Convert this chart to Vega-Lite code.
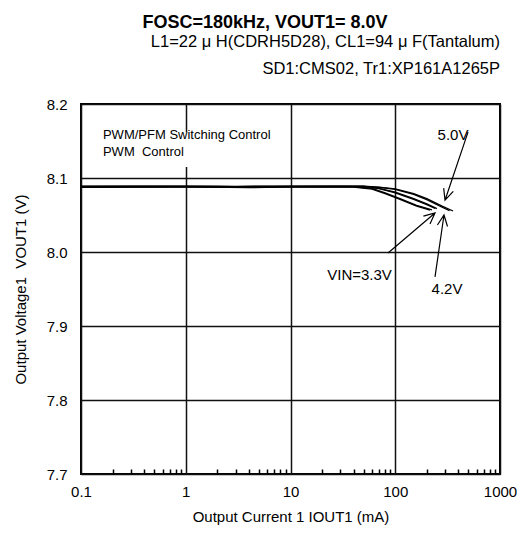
{
  "$schema": "https://vega.github.io/schema/vega-lite/v6.json",
  "width": 419,
  "height": 370,
  "autosize": {"type": "none"},
  "padding": {"left": 81, "top": 104, "right": 22, "bottom": 70},
  "background": "white",
  "config": {
    "font": "Liberation Sans",
    "view": {"stroke": "#000", "strokeWidth": 2},
    "axis": {"labelFont": "Liberation Sans", "titleFont": "Liberation Sans", "labelColor": "#000", "titleColor": "#000", "titleFontWeight": "normal"}
  },
  "resolve": {"axis": {"x": "independent", "y": "independent"}},
  "layer": [
    {
      "data": {"values": [
        {"x": 0.15, "x2": 7.9, "y": 8.162, "y2": 8.115}
      ]},
      "mark": {"type": "rect", "fill": "white", "stroke": null},
      "encoding": {
        "x": {"field": "x", "type": "quantitative", "scale": {"type": "log", "domain": [0.1, 1000], "nice": false},
          "axis": {"orient": "bottom", "values": [0.2,0.3,0.4,0.5,0.6,0.7,0.8,0.9,2,3,4,5,6,7,8,9,20,30,40,50,60,70,80,90,200,300,400,500,600,700,800,900], "labels": false, "grid": false, "domain": false, "ticks": true, "tickSize": -5, "tickColor": "#000", "tickWidth": 1.5, "title": null, "zindex": 1}},
        "x2": {"field": "x2"},
        "y": {"field": "y", "type": "quantitative", "scale": {"domain": [7.7, 8.2], "nice": false, "zero": false}, "axis": null},
        "y2": {"field": "y2"}
      }
    },
    {
      "data": {"values": [
        {"s": "5.0a", "x": 0.1, "y": 8.0890}, {"s": "5.0a", "x": 0.15, "y": 8.0889}, {"s": "5.0a", "x": 0.3, "y": 8.0891}, {"s": "5.0a", "x": 0.5, "y": 8.0889}, {"s": "5.0a", "x": 1, "y": 8.0890}, {"s": "5.0a", "x": 2, "y": 8.0889}, {"s": "5.0a", "x": 3, "y": 8.0888}, {"s": "5.0a", "x": 5, "y": 8.0891}, {"s": "5.0a", "x": 10, "y": 8.0891}, {"s": "5.0a", "x": 20, "y": 8.0891}, {"s": "5.0a", "x": 30, "y": 8.0890}, {"s": "5.0a", "x": 50, "y": 8.0889}, {"s": "5.0a", "x": 70, "y": 8.0878}, {"s": "5.0a", "x": 100, "y": 8.0852}, {"s": "5.0a", "x": 150, "y": 8.0790}, {"s": "5.0a", "x": 200, "y": 8.0720}, {"s": "5.0a", "x": 280, "y": 8.0620}, {"s": "5.0a", "x": 356, "y": 8.0554},
        {"s": "5.0b", "x": 0.1, "y": 8.0884}, {"s": "5.0b", "x": 0.3, "y": 8.0885}, {"s": "5.0b", "x": 1, "y": 8.0886}, {"s": "5.0b", "x": 3, "y": 8.0884}, {"s": "5.0b", "x": 10, "y": 8.0887}, {"s": "5.0b", "x": 30, "y": 8.0887}, {"s": "5.0b", "x": 50, "y": 8.0886}, {"s": "5.0b", "x": 70, "y": 8.0872}, {"s": "5.0b", "x": 100, "y": 8.0845}, {"s": "5.0b", "x": 150, "y": 8.0780}, {"s": "5.0b", "x": 200, "y": 8.0708}, {"s": "5.0b", "x": 280, "y": 8.0605}, {"s": "5.0b", "x": 330, "y": 8.0560},
        {"s": "4.2a", "x": 0.1, "y": 8.0886}, {"s": "4.2a", "x": 0.3, "y": 8.0887}, {"s": "4.2a", "x": 1, "y": 8.0887}, {"s": "4.2a", "x": 4, "y": 8.0880}, {"s": "4.2a", "x": 10, "y": 8.0887}, {"s": "4.2a", "x": 30, "y": 8.0888}, {"s": "4.2a", "x": 50, "y": 8.0887}, {"s": "4.2a", "x": 70, "y": 8.0860}, {"s": "4.2a", "x": 100, "y": 8.0810}, {"s": "4.2a", "x": 150, "y": 8.0720}, {"s": "4.2a", "x": 200, "y": 8.0650}, {"s": "4.2a", "x": 250, "y": 8.0585},
        {"s": "4.2b", "x": 0.1, "y": 8.0880}, {"s": "4.2b", "x": 0.3, "y": 8.0882}, {"s": "4.2b", "x": 1, "y": 8.0883}, {"s": "4.2b", "x": 10, "y": 8.0884}, {"s": "4.2b", "x": 30, "y": 8.0885}, {"s": "4.2b", "x": 50, "y": 8.0884}, {"s": "4.2b", "x": 70, "y": 8.0855}, {"s": "4.2b", "x": 100, "y": 8.0800}, {"s": "4.2b", "x": 150, "y": 8.0712}, {"s": "4.2b", "x": 200, "y": 8.0640}, {"s": "4.2b", "x": 240, "y": 8.0590},
        {"s": "3.3a", "x": 0.1, "y": 8.0878}, {"s": "3.3a", "x": 0.3, "y": 8.0879}, {"s": "3.3a", "x": 1, "y": 8.0880}, {"s": "3.3a", "x": 4, "y": 8.0870}, {"s": "3.3a", "x": 10, "y": 8.0879}, {"s": "3.3a", "x": 40, "y": 8.0882}, {"s": "3.3a", "x": 60, "y": 8.0860}, {"s": "3.3a", "x": 80, "y": 8.0800}, {"s": "3.3a", "x": 111, "y": 8.0720}, {"s": "3.3a", "x": 160, "y": 8.0630}, {"s": "3.3a", "x": 224, "y": 8.0568},
        {"s": "3.3b", "x": 0.1, "y": 8.0875}, {"s": "3.3b", "x": 0.3, "y": 8.0876}, {"s": "3.3b", "x": 1, "y": 8.0877}, {"s": "3.3b", "x": 10, "y": 8.0877}, {"s": "3.3b", "x": 40, "y": 8.0878}, {"s": "3.3b", "x": 60, "y": 8.0850}, {"s": "3.3b", "x": 80, "y": 8.0790}, {"s": "3.3b", "x": 111, "y": 8.0710}, {"s": "3.3b", "x": 160, "y": 8.0620}, {"s": "3.3b", "x": 215, "y": 8.0565}
      ]},
      "mark": {"type": "line", "color": "#000", "strokeWidth": 1.3},
      "encoding": {
        "x": {"field": "x", "type": "quantitative", "scale": {"type": "log", "domain": [0.1, 1000], "nice": false},
          "axis": {"orient": "bottom", "values": [0.1, 1, 10, 100, 1000], "format": "~g", "grid": true, "gridColor": "#111", "gridWidth": 1.5, "domain": false, "ticks": false, "labelFontSize": 15, "labelPadding": 10, "title": "Output Current 1 IOUT1 (mA)", "titleFontSize": 15, "titlePadding": 10, "labelFlush": false, "labelOverlap": false}},
        "y": {"field": "y", "type": "quantitative", "scale": {"domain": [7.7, 8.2], "nice": false, "zero": false},
          "axis": {"orient": "left", "values": [7.7, 7.8, 7.9, 8.0, 8.1, 8.2], "format": ".1f", "grid": true, "gridColor": "#111", "gridWidth": 1.5, "domain": false, "ticks": false, "labelFontSize": 15, "labelPadding": 14, "title": "Output Voltage1\u00a0\u00a0VOUT1 (V)", "titleFontSize": 15, "titlePadding": 18, "labelFlush": false, "labelOverlap": false}},
        "detail": {"field": "s", "type": "nominal"},
        "order": {"field": "x", "type": "quantitative"}
      }
    },
    {
      "data": {"values": [
        {"a": "5.0", "o": 0, "x": 495, "y": 8.162}, {"a": "5.0", "o": 1, "x": 298.5, "y": 8.070}, {"a": "5.0", "o": 2, "x": 358, "y": 8.082}, {"a": "5.0", "o": 3, "x": 298.5, "y": 8.070}, {"a": "5.0", "o": 4, "x": 290, "y": 8.0864},
        {"a": "3.3", "o": 0, "x": 85.3, "y": 7.9987}, {"a": "3.3", "o": 1, "x": 239.6, "y": 8.0527}, {"a": "3.3", "o": 2, "x": 185.7, "y": 8.0484}, {"a": "3.3", "o": 3, "x": 239.6, "y": 8.0527}, {"a": "3.3", "o": 4, "x": 214.6, "y": 8.038},
        {"a": "4.2", "o": 0, "x": 239.6, "y": 7.9663}, {"a": "4.2", "o": 1, "x": 292, "y": 8.050}, {"a": "4.2", "o": 2, "x": 252.6, "y": 8.0365}, {"a": "4.2", "o": 3, "x": 292, "y": 8.050}, {"a": "4.2", "o": 4, "x": 315.3, "y": 8.0345}
      ]},
      "mark": {"type": "line", "color": "#000", "strokeWidth": 1.2},
      "encoding": {
        "x": {"field": "x", "type": "quantitative", "scale": {"type": "log", "domain": [0.1, 1000], "nice": false}, "axis": null},
        "y": {"field": "y", "type": "quantitative", "scale": {"domain": [7.7, 8.2], "nice": false, "zero": false}, "axis": null},
        "detail": {"field": "a", "type": "nominal"},
        "order": {"field": "o", "type": "quantitative"}
      }
    },
    {
      "data": {"values": [
        {"t": "5.0V", "x": 356, "y": 8.158},
        {"t": "VIN=3.3V", "x": 45.6, "y": 7.969},
        {"t": "4.2V", "x": 312, "y": 7.950}
      ]},
      "mark": {"type": "text", "fontSize": 15, "font": "Liberation Sans", "color": "#000", "baseline": "middle", "align": "center"},
      "encoding": {
        "x": {"field": "x", "type": "quantitative", "scale": {"type": "log", "domain": [0.1, 1000], "nice": false}, "axis": null},
        "y": {"field": "y", "type": "quantitative", "scale": {"domain": [7.7, 8.2], "nice": false, "zero": false}, "axis": null},
        "text": {"field": "t"}
      }
    },
    {
      "data": {"values": [
        {"t": "PWM/PFM Switching Control", "x": 0.162, "y": 8.158},
        {"t": "PWM\u00a0\u00a0Control", "x": 0.162, "y": 8.135}
      ]},
      "mark": {"type": "text", "fontSize": 13, "font": "Liberation Sans", "color": "#000", "baseline": "middle", "align": "left"},
      "encoding": {
        "x": {"field": "x", "type": "quantitative", "scale": {"type": "log", "domain": [0.1, 1000], "nice": false}, "axis": null},
        "y": {"field": "y", "type": "quantitative", "scale": {"domain": [7.7, 8.2], "nice": false, "zero": false}, "axis": null},
        "text": {"field": "t"}
      }
    },
    {
      "data": {"values": [
        {"t": "L1=22 μ H(CDRH5D28), CL1=94 μ F(Tantalum)", "x": 1000, "y": 8.2838},
        {"t": "SD1:CMS02, Tr1:XP161A1265P", "x": 1000, "y": 8.2473}
      ]},
      "mark": {"type": "text", "fontSize": 16.5, "font": "Liberation Sans", "color": "#000", "baseline": "middle", "align": "right"},
      "encoding": {
        "x": {"field": "x", "type": "quantitative", "scale": {"type": "log", "domain": [0.1, 1000], "nice": false}, "axis": null},
        "y": {"field": "y", "type": "quantitative", "scale": {"domain": [7.7, 8.2], "nice": false, "zero": false}, "axis": null},
        "text": {"field": "t"}
      }
    },
    {
      "data": {"values": [
        {"t": "FOSC=180kHz, VOUT1= 8.0V", "x": 5.71, "y": 8.309}
      ]},
      "mark": {"type": "text", "fontSize": 18, "fontWeight": "bold", "font": "Liberation Sans", "color": "#000", "baseline": "middle", "align": "center"},
      "encoding": {
        "x": {"field": "x", "type": "quantitative", "scale": {"type": "log", "domain": [0.1, 1000], "nice": false}, "axis": null},
        "y": {"field": "y", "type": "quantitative", "scale": {"domain": [7.7, 8.2], "nice": false, "zero": false}, "axis": null},
        "text": {"field": "t"}
      }
    }
  ]
}
